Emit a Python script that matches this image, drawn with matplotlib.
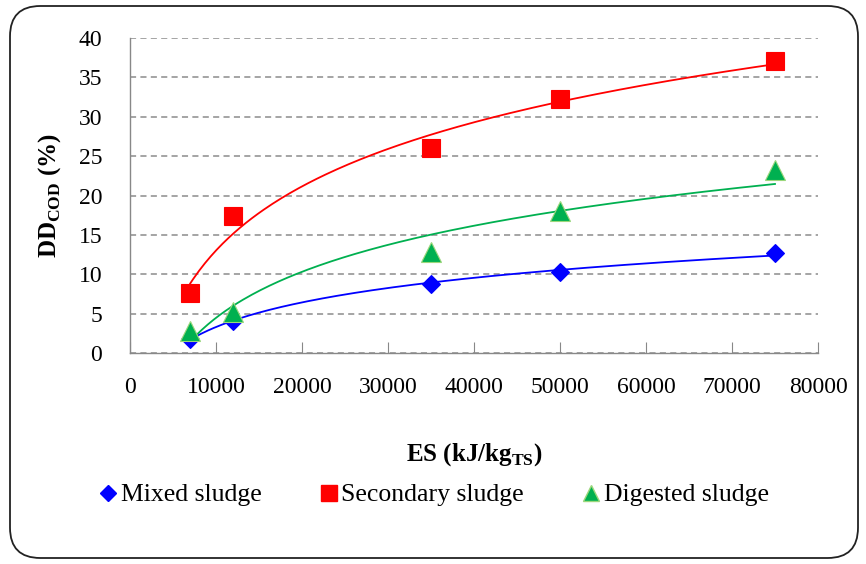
import numpy as np
import matplotlib
matplotlib.use("Agg")
import matplotlib.pyplot as plt
from matplotlib.patches import FancyBboxPatch
from matplotlib.lines import Line2D

plt.rcParams['font.family'] = ['Liberation Serif', 'DejaVu Serif']
plt.rcParams['mathtext.fontset'] = 'custom'
plt.rcParams['mathtext.rm'] = 'Liberation Serif'
plt.rcParams['mathtext.bf'] = 'Liberation Serif:bold'

# data
es = [7000, 12000, 35000, 50000, 75000]
mixed = [1.8, 4.1, 8.8, 10.3, 12.7]
secondary = [7.6, 17.4, 26.0, 32.2, 37.1]
digested = [2.8, 5.2, 12.8, 18.0, 23.2]
series_names = ["Mixed sludge", "Secondary sludge", "Digested sludge"]

W, H = 866, 564
fig = plt.figure(figsize=(W / 100, H / 100), dpi=100)

# rounded chart border
border = FancyBboxPatch((10 / W, 6 / H), 848 / W, 552 / H,
                        boxstyle="round,pad=0,rounding_size=0.035",
                        mutation_aspect=W / H, transform=fig.transFigure,
                        facecolor="none", edgecolor="#222222", lw=1.3,
                        zorder=0)
fig.patches.append(border)

ax = fig.add_axes([130 / W, 1 - 353 / H, 688 / W, 315 / H])
ax.set_facecolor("none")

x = np.array(es, dtype=float)
xs = np.linspace(es[0], es[-1], 200)

styles = [
    (mixed, "#0000FF", "D", "#0000FF", 9),
    (secondary, "#FF0000", "s", "#FF0000", 13),
    (digested, "#00B050", "^", "#9BD77B", 14),
]

# logarithmic trend lines, like the Excel ones
for vals, col, mk, ec, ms in styles:
    b, a = np.polyfit(np.log(x), np.array(vals), 1)
    ax.plot(xs, a + b * np.log(xs), color=col, lw=1.3, zorder=2)

handles = []
for (vals, col, mk, ec, ms), name in zip(styles, series_names):
    ax.plot(es, vals, linestyle="none", marker=mk, markersize=ms,
            markerfacecolor=col, markeredgecolor=ec, markeredgewidth=0.8,
            zorder=3)
    handles.append(Line2D([], [], linestyle="none", marker=mk,
                          markersize=ms * 0.85, markerfacecolor=col,
                          markeredgecolor=ec, label=name))

ax.set_xlim(0, 80000)
ax.set_ylim(0, 40)
ax.set_xticks(np.arange(0, 80001, 10000))
ax.set_yticks(np.arange(0, 41, 5))
ax.yaxis.grid(True, color="#8c8c8c", linestyle=(0, (4, 2.8)), lw=1.1)
ax.set_axisbelow(True)

for s in ["top", "right"]:
    ax.spines[s].set_visible(False)
for s in ["left", "bottom"]:
    ax.spines[s].set_color("#888888")
    ax.spines[s].set_linewidth(1.0)

ax.tick_params(axis="x", direction="in", length=8, color="#888888",
               labelsize=17, pad=17)
ax.tick_params(axis="y", length=0, labelsize=17, pad=20)

ax.set_xlabel(r"ES (kJ/kg$_{\mathbf{TS}}$)", fontsize=18, fontweight="bold",
              labelpad=31)
ax.set_ylabel(r"DD$_{\mathbf{COD}}$ (%)", fontsize=18, fontweight="bold",
              labelpad=11)

fig.legend(handles=handles, loc="center", bbox_to_anchor=(432 / W, 1 - 495 / H),
           ncol=3, frameon=False, fontsize=18.5, handletextpad=0.0,
           columnspacing=2.1, handlelength=1.0)

fig.savefig("out.png", dpi=100)
